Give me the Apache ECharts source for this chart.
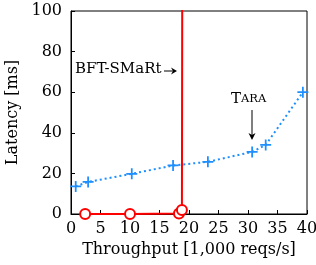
<!DOCTYPE html>
<html><head><meta charset="utf-8">
<script src="https://cdn.jsdelivr.net/npm/echarts@6/dist/echarts.min.js"></script>
<style>html,body{margin:0;padding:0;background:#fff}#c{width:316px;height:265px}</style>
</head><body><div id="c"></div>
<script>
// Tara (blue) series: throughput [1,000 reqs/s], latency [ms]
const taraX = [0.8, 2.9, 10.3, 17.3, 23.2, 30.7, 33.0, 39.3];
const taraY = [13.6, 15.8, 19.8, 23.9, 25.7, 30.6, 34.0, 60.0];
// BFT-SMaRt (red) series
const bftX = [2.4, 10.0, 18.3, 18.8, 19.0];
const bftY = [0.0, 0.0, 0.3, 2.0, 400];
const xTicks = [0, 5, 10, 15, 20, 25, 30, 35, 40];
const yTicks = [0, 20, 40, 60, 80, 100];

const FONT = 'DejaVu Serif';
const chart = echarts.init(document.getElementById('c'), null, {renderer: 'canvas'});
const plus = 'path://M4.2,0h1.6v4.2h4.2v1.6h-4.2v4.2h-1.6v-4.2h-4.2v-1.6h4.2z';
chart.setOption({
  animation: false,
  grid: {left: 71, right: 9, top: 11, bottom: 51, containLabel: false, outerBoundsMode: 'none',
    show: true, borderColor: '#000', borderWidth: 1, backgroundColor: 'transparent'},
  xAxis: {
    type: 'value', min: xTicks[0], max: xTicks[xTicks.length - 1], interval: 5,
    name: 'Throughput [1,000 reqs/s]', nameLocation: 'middle', nameGap: 26,
    nameTextStyle: {fontFamily: FONT, fontSize: 16, color: '#000'},
    axisLine: {show: true, lineStyle: {color: '#000', width: 1}},
    axisTick: {show: true, inside: true, length: 4, lineStyle: {color: '#000'}},
    axisLabel: {fontFamily: FONT, fontSize: 16, color: '#000', margin: 7},
    splitLine: {show: false}
  },
  yAxis: {
    type: 'value', min: yTicks[0], max: yTicks[yTicks.length - 1], interval: 20,
    name: 'Latency [ms]', nameLocation: 'middle', nameGap: 39, nameRotate: 90,
    nameTextStyle: {fontFamily: FONT, fontSize: 16, color: '#000'},
    axisLine: {show: true, lineStyle: {color: '#000', width: 1}},
    axisTick: {show: true, inside: true, length: 4, lineStyle: {color: '#000'}},
    axisLabel: {fontFamily: FONT, fontSize: 16, color: '#000', margin: 9},
    splitLine: {show: false}
  },
  series: [
    {
      type: 'line', data: bftX.map((x, i) => [x, bftY[i]]),
      lineStyle: {color: '#ff0000', width: 2},
      symbol: 'emptyCircle', symbolSize: 10,
      itemStyle: {color: '#ff0000', borderColor: '#ff0000', borderWidth: 1.5},
      z: 5
    },
    {
      type: 'line', data: taraX.map((x, i) => [x, taraY[i]]),
      lineStyle: {color: '#1e8fff', width: 2, type: [2, 3]},
      symbol: plus, symbolSize: 11,
      itemStyle: {color: '#1e8fff'},
      z: 6
    }
  ],
  graphic: [
    {type: 'text', left: 75, top: 62, style: {text: 'BFT-SMaRt', font: '15px ' + FONT, fill: '#000'}},
    {type: 'line', shape: {x1: 164, y1: 71, x2: 175, y2: 71}, style: {stroke: '#000', lineWidth: 1}},
    {type: 'polygon', shape: {points: [[177, 71], [171, 67.5], [173, 71], [171, 74.5]]}, style: {fill: '#000'}},
    {type: 'text', left: 231, top: 92, style: {
      text: '{a|T}{b|ARA}', rich: {a: {font: '15px ' + FONT, fill: '#000'}, b: {font: '11.5px ' + FONT, fill: '#000'}}
    }},
    {type: 'line', shape: {x1: 252, y1: 110, x2: 252, y2: 137}, style: {stroke: '#000', lineWidth: 1}},
    {type: 'polygon', shape: {points: [[252, 140], [248.5, 133], [252, 135], [255.5, 133]]}, style: {fill: '#000'}}
  ]
});
</script></body></html>
